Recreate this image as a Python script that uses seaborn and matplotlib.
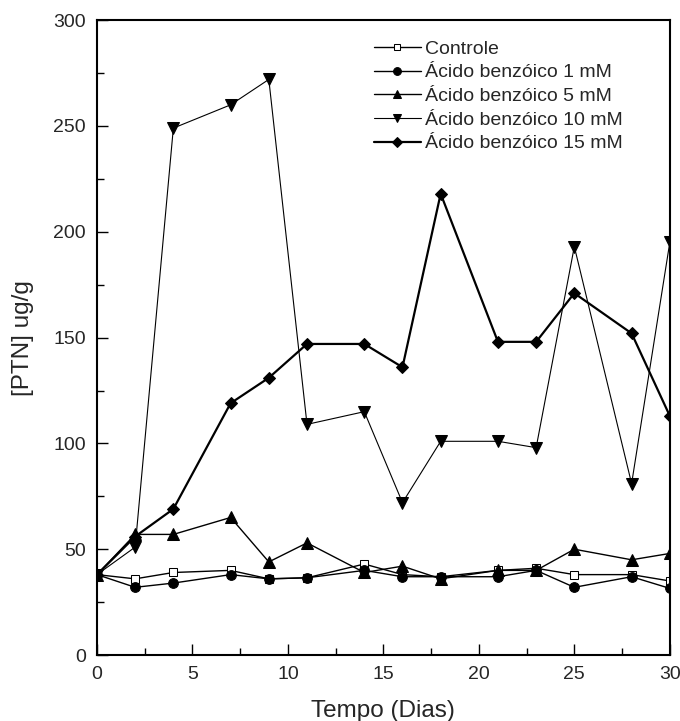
import pandas as pd
import matplotlib.pyplot as plt
import seaborn as sns
from matplotlib.ticker import MultipleLocator

sns.set_style("ticks")
plt.rcParams['font.family'] = ['Liberation Sans', 'DejaVu Sans']

# Data
dias = [0, 2, 4, 7, 9, 11, 14, 16, 18, 21, 23, 25, 28, 30]
controle = [38, 36, 39, 40, 36, 36.5, 43, 38, 37, 40, 41, 38, 38, 35]
ab_1mm = [38, 32, 34, 38, 36, 36.5, 40, 37, 37, 37, 40, 32, 37, 31.5]
ab_5mm = [38, 57, 57, 65, 44, 53, 39, 42, 36, 40, 40, 50, 45, 48]
ab_10mm = [38, 51, 249, 260, 272, 109, 115, 72, 101, 101, 98, 193, 81, 195]
ab_15mm = [38, 56, 69, 119, 131, 147, 147, 136, 218, 148, 148, 171, 152, 113]

labels = ['Controle', 'Ácido benzóico 1 mM', 'Ácido benzóico 5 mM',
          'Ácido benzóico 10 mM', 'Ácido benzóico 15 mM']
series = [controle, ab_1mm, ab_5mm, ab_10mm, ab_15mm]

fig = plt.figure(figsize=(6.8, 7.21), dpi=100)
ax = fig.add_axes([0.1426, 0.0915, 0.8424, 0.8805])

# marker, fill, line width, marker size per series
styles = [
    ('s', 'white', 1.0, 6),
    ('o', 'black', 1.0, 7),
    ('^', 'black', 1.0, 8),
    ('v', 'black', 0.8, 8),
    ('D', 'black', 1.6, 6.5),
]

for lab, vals, (mk, fc, lw, ms) in zip(labels, series, styles):
    df = pd.DataFrame({'dias': dias, 'ptn': vals})
    sns.lineplot(data=df, x='dias', y='ptn', ax=ax, color='black',
                 marker=mk, markerfacecolor=fc, markeredgecolor='black',
                 markersize=ms, linewidth=lw, label=lab)

ax.set_xlim(0, 30)
ax.set_ylim(0, 300)
ax.xaxis.set_major_locator(MultipleLocator(5))
ax.xaxis.set_minor_locator(MultipleLocator(2.5))
ax.yaxis.set_major_locator(MultipleLocator(50))
ax.yaxis.set_minor_locator(MultipleLocator(25))
ax.tick_params(which='both', direction='in', top=False, right=False,
               labelsize=14, color='black')
ax.tick_params(which='major', length=8, width=1)
ax.tick_params(which='minor', length=5, width=1)
ax.tick_params(axis='x', which='major', pad=8)
ax.tick_params(axis='y', which='major', pad=8)
for sp in ax.spines.values():
    sp.set_linewidth(1.5)
    sp.set_color('black')

ax.set_xlabel('Tempo (Dias)', fontsize=17.5, labelpad=12)
ax.set_ylabel('[PTN] ug/g', fontsize=17.5, labelpad=14)

ax.legend(loc='upper left', bbox_to_anchor=(0.46, 0.99), frameon=False,
          fontsize=14, handlelength=2.4, handletextpad=0.2, labelspacing=0.31,
          borderaxespad=0.3, markerscale=0.8)

plt.savefig('out.png', dpi=100)
plt.close()
